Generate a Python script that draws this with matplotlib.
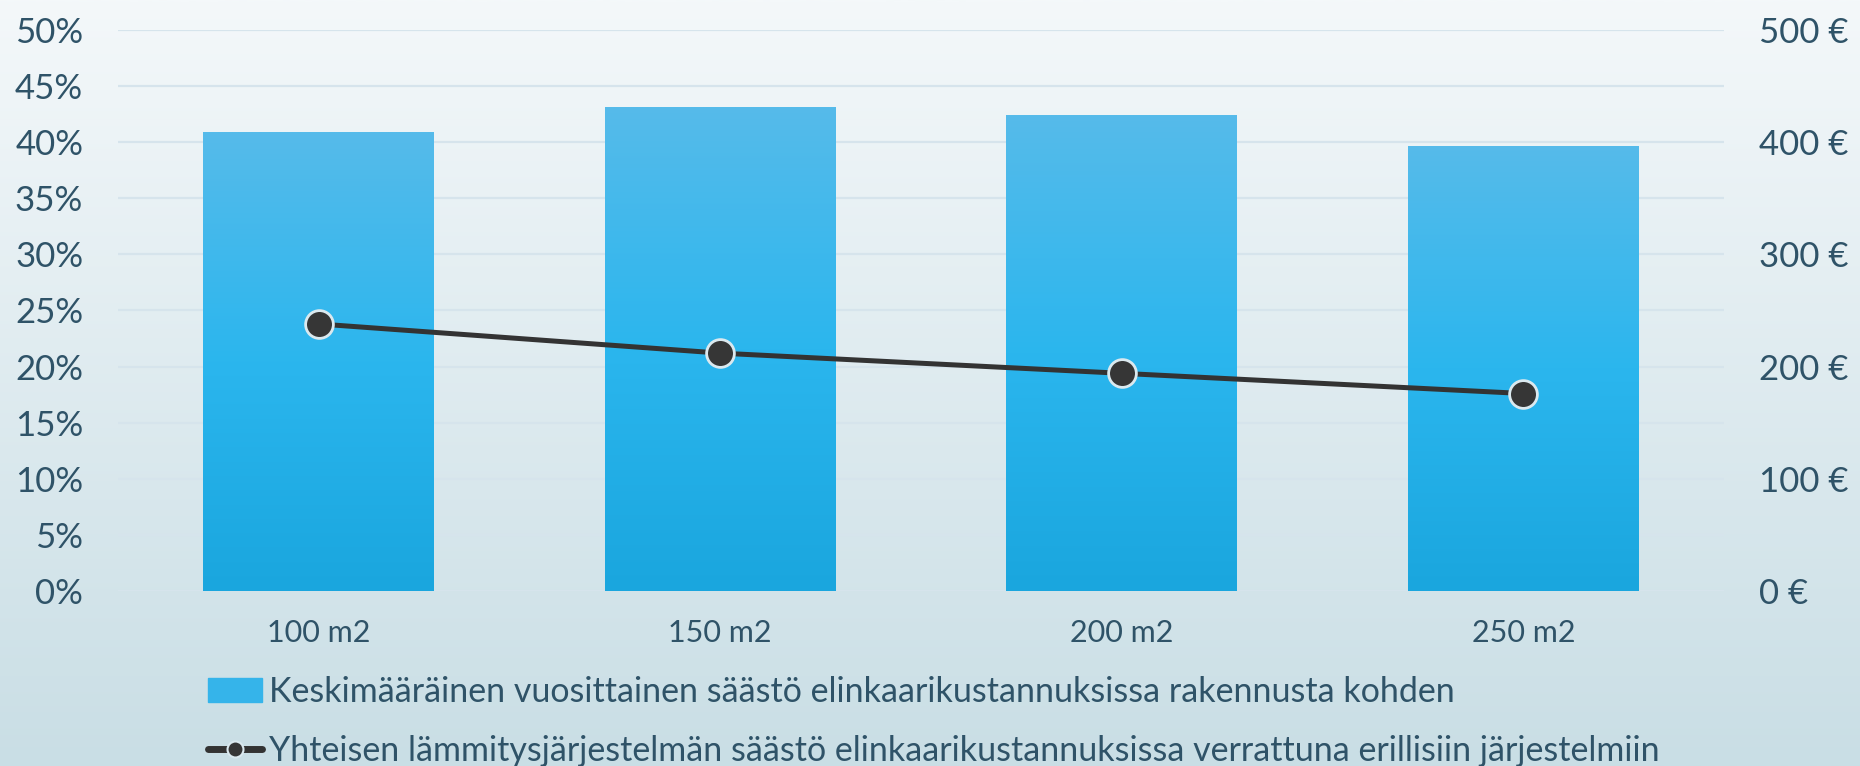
import numpy as np
import matplotlib
matplotlib.use('Agg')
import matplotlib.pyplot as plt
from matplotlib.colors import LinearSegmentedColormap
from matplotlib.lines import Line2D
from matplotlib.patches import Patch
from matplotlib.ticker import MultipleLocator, FuncFormatter

categories = ['100 m2', '150 m2', '200 m2', '250 m2']
annual_saving_eur = [409, 431, 424, 397]
saving_pct = [23.8, 21.2, 19.4, 17.6]
bar_label = 'Keskimääräinen vuosittainen säästö elinkaarikustannuksissa rakennusta kohden'
line_label = 'Yhteisen lämmitysjärjestelmän säästö elinkaarikustannuksissa verrattuna erillisiin järjestelmiin'

plt.rcParams['font.family'] = ['Lato', 'DejaVu Sans']
TXT = '#2f5368'

fig = plt.figure(figsize=(18.6, 7.66), dpi=100)

# background gradient
bg = fig.add_axes([0, 0, 1, 1], zorder=-10)
bg_cmap = LinearSegmentedColormap.from_list('bg', ['#c9dee5', '#f4f8fa'])
bg.imshow(np.linspace(0, 1, 256).reshape(-1, 1), aspect='auto', cmap=bg_cmap,
          origin='lower', extent=[0, 1, 0, 1])
bg.axis('off')

ax = fig.add_axes([0.0634, 0.2285, 0.8635, 0.7323])
ax.patch.set_alpha(0)
x = np.arange(len(categories))

bars = ax.bar(x, annual_saving_eur, width=0.575, color='#2fb3e8', zorder=2)
bar_cmap = LinearSegmentedColormap.from_list('bar', ['#1aa6de', '#2bb6ee', '#56bbea'])
for b in bars:
    im = ax.imshow(np.linspace(0, 1, 256).reshape(-1, 1), aspect='auto', cmap=bar_cmap,
                   origin='lower', zorder=2.5,
                   extent=[b.get_x(), b.get_x() + b.get_width(), 0, b.get_height()])
    im.set_clip_path(b)

ax.set_xlim(-0.5, 3.5)
ax.set_ylim(0, 500)
ax.yaxis.set_major_locator(MultipleLocator(100))
ax.yaxis.set_minor_locator(MultipleLocator(50))
ax.yaxis.set_major_formatter(FuncFormatter(lambda v, p: f'{v:.0f} €'))
ax.grid(axis='y', which='both', color='#d6e4ec', lw=1.6)
ax.set_axisbelow(True)
ax.set_xticks(x)
ax.set_xticklabels(categories)
ax.tick_params(axis='x', length=0, pad=20, labelsize=22, labelcolor=TXT)

# percent line on the twin, then swap sides so € is on the right
ax2 = ax.twinx()
line, = ax2.plot(x, saving_pct, color='#333333', lw=3.6, marker='o', ms=20,
                 mfc='#363636', mec='#dbe9ef', mew=2, zorder=5)
ax2.set_ylim(0, 50)
ax2.yaxis.set_major_locator(MultipleLocator(5))
ax2.yaxis.set_major_formatter(FuncFormatter(lambda v, p: f'{v:.0f}%'))
ax.yaxis.tick_right()
ax2.yaxis.tick_left()
ax.tick_params(axis='y', which='both', length=0, pad=25, labelsize=25, labelcolor=TXT)
ax2.tick_params(axis='y', length=0, pad=25, labelsize=25, labelcolor=TXT)

for a in (ax, ax2):
    for s in a.spines.values():
        s.set_visible(False)

handles = [Patch(color='#35b4ea'),
           Line2D([], [], color='#333333', lw=5, marker='o', ms=11.5,
                  mfc='#363636', mec='#dbe9ef', mew=1.5, solid_capstyle='round')]
leg = fig.legend(handles, [bar_label, line_label], loc='upper left',
                 bbox_to_anchor=(208 / 1860, 1 - 676 / 766), frameon=False,
                 fontsize=24.5, handlelength=1.6, handletextpad=0.2,
                 labelspacing=0.8, borderpad=0, borderaxespad=0)
for t in leg.get_texts():
    t.set_color(TXT)

fig.savefig('out.png', dpi=100)
